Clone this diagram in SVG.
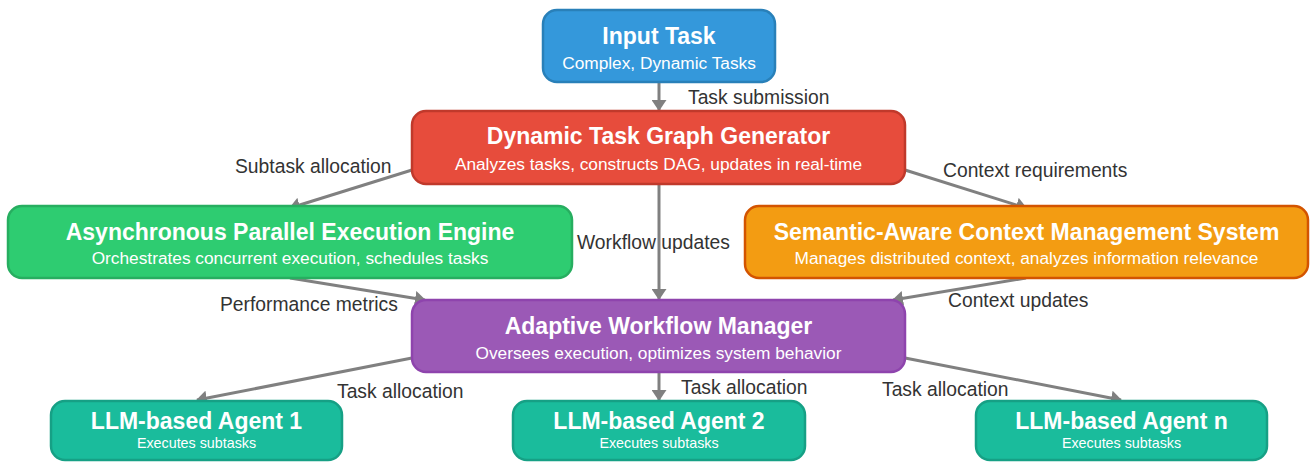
<svg xmlns="http://www.w3.org/2000/svg" width="1310" height="462" viewBox="0 0 1310 462">
  <style>
    .box { stroke-width: 2.5; }
    .title { font-family: "Liberation Sans", Arial, sans-serif; font-weight: bold; font-size: 23px; fill: #ffffff; text-anchor: middle; }
    .sub { font-family: "Liberation Sans", Arial, sans-serif; font-size: 17.3px; fill: #ffffff; text-anchor: middle; }
    .sub-sm { font-family: "Liberation Sans", Arial, sans-serif; font-size: 14.3px; fill: #ffffff; text-anchor: middle; }
    .lbl { font-family: "Liberation Sans", Arial, sans-serif; font-size: 19.3px; fill: #333333; }
    .edge { stroke: #808080; stroke-width: 3; fill: none; marker-end: url(#arrow); }
  </style>
  <defs>
    <marker id="arrow" viewBox="0 0 11 15" refX="10" refY="7.5" markerWidth="11" markerHeight="15" markerUnits="userSpaceOnUse" orient="auto">
      <path d="M0,0 L11,7.5 L0,15 z" fill="#808080"/>
    </marker>
  </defs>
  <rect width="1310" height="462" fill="#ffffff"/>

  <g id="connectors">
    <line class="edge" x1="659" y1="83" x2="659" y2="110"/>
    <line class="edge" x1="412" y1="170" x2="290" y2="208"/>
    <line class="edge" x1="905" y1="170" x2="1026" y2="208"/>
    <line class="edge" x1="659" y1="185" x2="659" y2="299"/>
    <line class="edge" x1="290" y1="278" x2="425" y2="300"/>
    <line class="edge" x1="1026" y1="278" x2="893" y2="300"/>
    <line class="edge" x1="412" y1="358" x2="197" y2="400"/>
    <line class="edge" x1="659" y1="373" x2="659" y2="400"/>
    <line class="edge" x1="905" y1="358" x2="1121" y2="400"/>
  </g>

  <g id="labels">
    <text class="lbl" x="688" y="104">Task submission</text>
    <text class="lbl" x="235" y="173">Subtask allocation</text>
    <text class="lbl" x="943" y="177">Context requirements</text>
    <text class="lbl" x="577" y="249">Workflow updates</text>
    <text class="lbl" x="220" y="311">Performance metrics</text>
    <text class="lbl" x="948" y="307">Context updates</text>
    <text class="lbl" x="337" y="398">Task allocation</text>
    <text class="lbl" x="681" y="394">Task allocation</text>
    <text class="lbl" x="882" y="396">Task allocation</text>
  </g>

  <g id="input-task">
    <rect class="box" x="543" y="10" width="232" height="72" rx="14" fill="#3498db" stroke="#2980b9"/>
    <text class="title" x="659" y="44">Input Task</text>
    <text class="sub" x="659" y="69">Complex, Dynamic Tasks</text>
  </g>

  <g id="task-graph-generator">
    <rect class="box" x="412" y="111" width="493" height="73" rx="14" fill="#e74c3c" stroke="#c0392b"/>
    <text class="title" x="658.5" y="144">Dynamic Task Graph Generator</text>
    <text class="sub" x="658.5" y="170">Analyzes tasks, constructs DAG, updates in real-time</text>
  </g>

  <g id="execution-engine">
    <rect class="box" x="8" y="206" width="564" height="72" rx="14" fill="#2ecc71" stroke="#27ae60"/>
    <text class="title" x="290" y="240">Asynchronous Parallel Execution Engine</text>
    <text class="sub" x="290" y="264">Orchestrates concurrent execution, schedules tasks</text>
  </g>

  <g id="context-management">
    <rect class="box" x="745" y="206" width="563" height="72" rx="14" fill="#f39c12" stroke="#d35400"/>
    <text class="title" x="1026.5" y="240">Semantic-Aware Context Management System</text>
    <text class="sub" x="1026.5" y="264">Manages distributed context, analyzes information relevance</text>
  </g>

  <g id="workflow-manager">
    <rect class="box" x="412" y="300" width="493" height="72" rx="14" fill="#9b59b6" stroke="#8e44ad"/>
    <text class="title" x="658.5" y="334">Adaptive Workflow Manager</text>
    <text class="sub" x="658.5" y="359">Oversees execution, optimizes system behavior</text>
  </g>

  <g id="agent-1">
    <rect class="box" x="51" y="401" width="291" height="59" rx="14" fill="#1abc9c" stroke="#16a085"/>
    <text class="title" x="196.5" y="429">LLM-based Agent 1</text>
    <text class="sub-sm" x="196.5" y="448">Executes subtasks</text>
  </g>

  <g id="agent-2">
    <rect class="box" x="513" y="401" width="292" height="59" rx="14" fill="#1abc9c" stroke="#16a085"/>
    <text class="title" x="659" y="429">LLM-based Agent 2</text>
    <text class="sub-sm" x="659" y="448">Executes subtasks</text>
  </g>

  <g id="agent-n">
    <rect class="box" x="976" y="401" width="291" height="59" rx="14" fill="#1abc9c" stroke="#16a085"/>
    <text class="title" x="1121.5" y="429">LLM-based Agent n</text>
    <text class="sub-sm" x="1121.5" y="448">Executes subtasks</text>
  </g>
</svg>
